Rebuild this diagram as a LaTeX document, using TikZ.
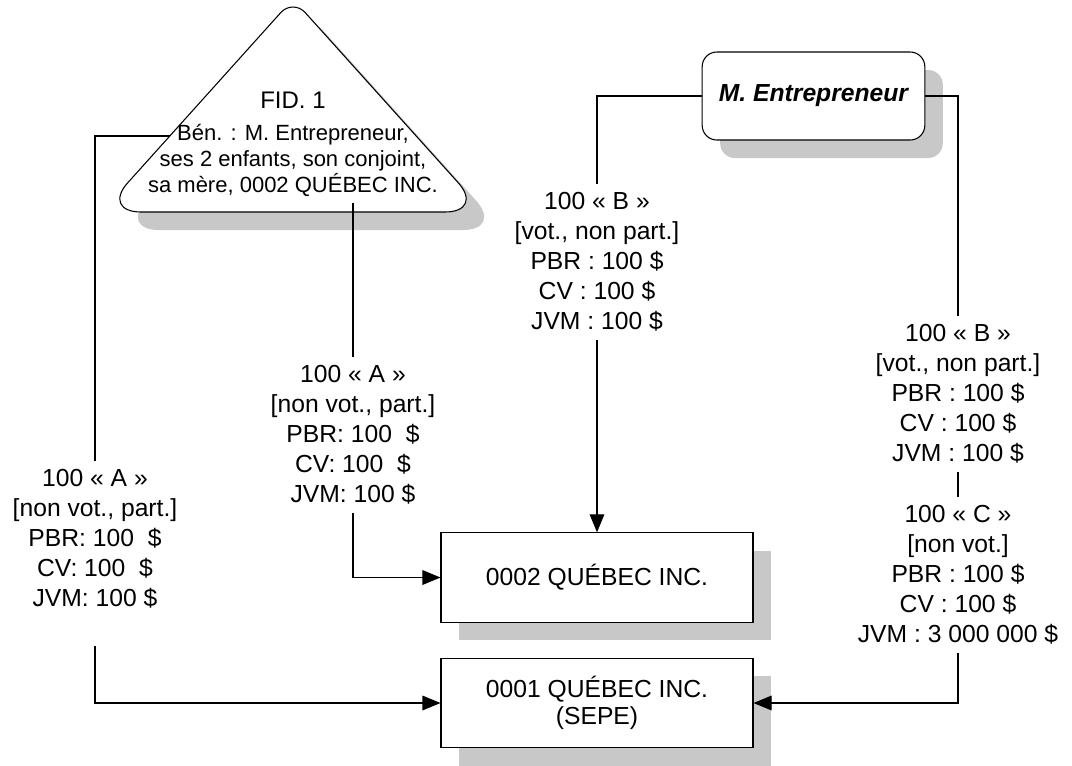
\documentclass[tikz,border=0pt]{standalone}
\usepackage{fontspec}
\setmainfont{Liberation Sans}
\usetikzlibrary{arrows.meta,shadows,calc}
\definecolor{shad}{RGB}{200,200,200}
\begin{document}
\begin{tikzpicture}[x=0.75pt,y=-0.75pt,
  every node/.style={font=\fontsize{18.5}{22.5}\selectfont},
  lbl/.style={align=center, inner xsep=0pt, inner ysep=6pt},
  conn/.style={line width=0.8pt},
  arr/.style={conn,-{Triangle[length=13.5pt,width=11pt]}},
  shadowed/.style={drop shadow={shadow xshift=13.5pt, shadow yshift=-13.5pt, fill=shad, opacity=1}},
  corpbox/.style={draw, line width=0.8pt, fill=white, shadowed, minimum width=234pt, minimum height=67pt, align=center}
]
\useasboundingbox (0,0) rectangle (1072,765);
\def\tripath{(141,212) -- (445,212) .. controls (467,212) and (472.85,198.7) .. (458,182.5) -- (305.15,12.5) .. controls (298.5,5.2) and (287.5,5.2) .. (280.85,12.5) -- (128,182.5) .. controls (113.15,198.7) and (119,212) .. (141,212) -- cycle}
% triangle (trust) with shadow
\begin{scope}[shift={(18,18)}]
  \fill[shad] \tripath;
\end{scope}
\draw[line width=0.8pt, fill=white] \tripath;
\node[align=center, inner sep=0pt, anchor=north, font=\fontsize{16.5}{19.5}\selectfont] (fid) at (293,92)
  {{\fontsize{18}{20}\selectfont FID. 1}\\[4pt]Bén. : M. Entrepreneur,\\ses 2 enfants, son conjoint,\\sa mère, 0002 QUÉBEC INC.};
\coordinate (tL) at (170,136);
\coordinate (tB) at (353,203);

% boxes
\node[corpbox] (q2) at (597,577.5) {0002 QUÉBEC INC.};
\node[corpbox, font=\fontsize{18.5}{20}\selectfont] (q1) at (597,703) {0001 QUÉBEC INC.\\(SEPE)};
\node[corpbox, rounded corners=11pt, minimum width=167pt, minimum height=66pt, font=\fontsize{18.5}{22.5}\selectfont\bfseries\itshape] (me) at (813.5,96) {M. Entrepreneur};

% labels
\node[lbl] (lA1) at (95,539) {100 « A »\\{[non vot., part.]}\\PBR: 100~~\$\\CV: 100~~\$\\JVM: 100 \$};
\node[lbl] (lA2) at (353,435) {100 « A »\\{[non vot., part.]}\\PBR: 100~~\$\\CV: 100~~\$\\JVM: 100 \$};
\node[lbl] (lB1) at (597,262) {100 « B »\\{[vot., non part.]}\\PBR : 100 \$\\CV : 100 \$\\JVM : 100 \$};
\node[lbl] (lB2) at (958,394) {100 « B »\\{[vot., non part.]}\\PBR : 100 \$\\CV : 100 \$\\JVM : 100 \$};
\node[lbl] (lC) at (958,575) {100 « C »\\{[non vot.]}\\PBR : 100 \$\\CV : 100 \$\\JVM : 3 000 000 \$};

% connectors
\draw[conn] (tL) -| (lA1.north);
\draw[arr] ($(lA1.south)+(0,29)$) |- (q1.west);
\draw[conn] (tB) -- (lA2.north);
\draw[arr] (lA2.south) |- (q2.west);
\draw[conn] (me.west) -| (lB1.north);
\draw[arr] (lB1.south) -- (q2.north);
\draw[conn] (me.east) -| (lB2.north);
\draw[conn] (lB2.south) -- (lC.north);
\draw[arr] (lC.south) |- (q1.east);
\end{tikzpicture}
\end{document}
